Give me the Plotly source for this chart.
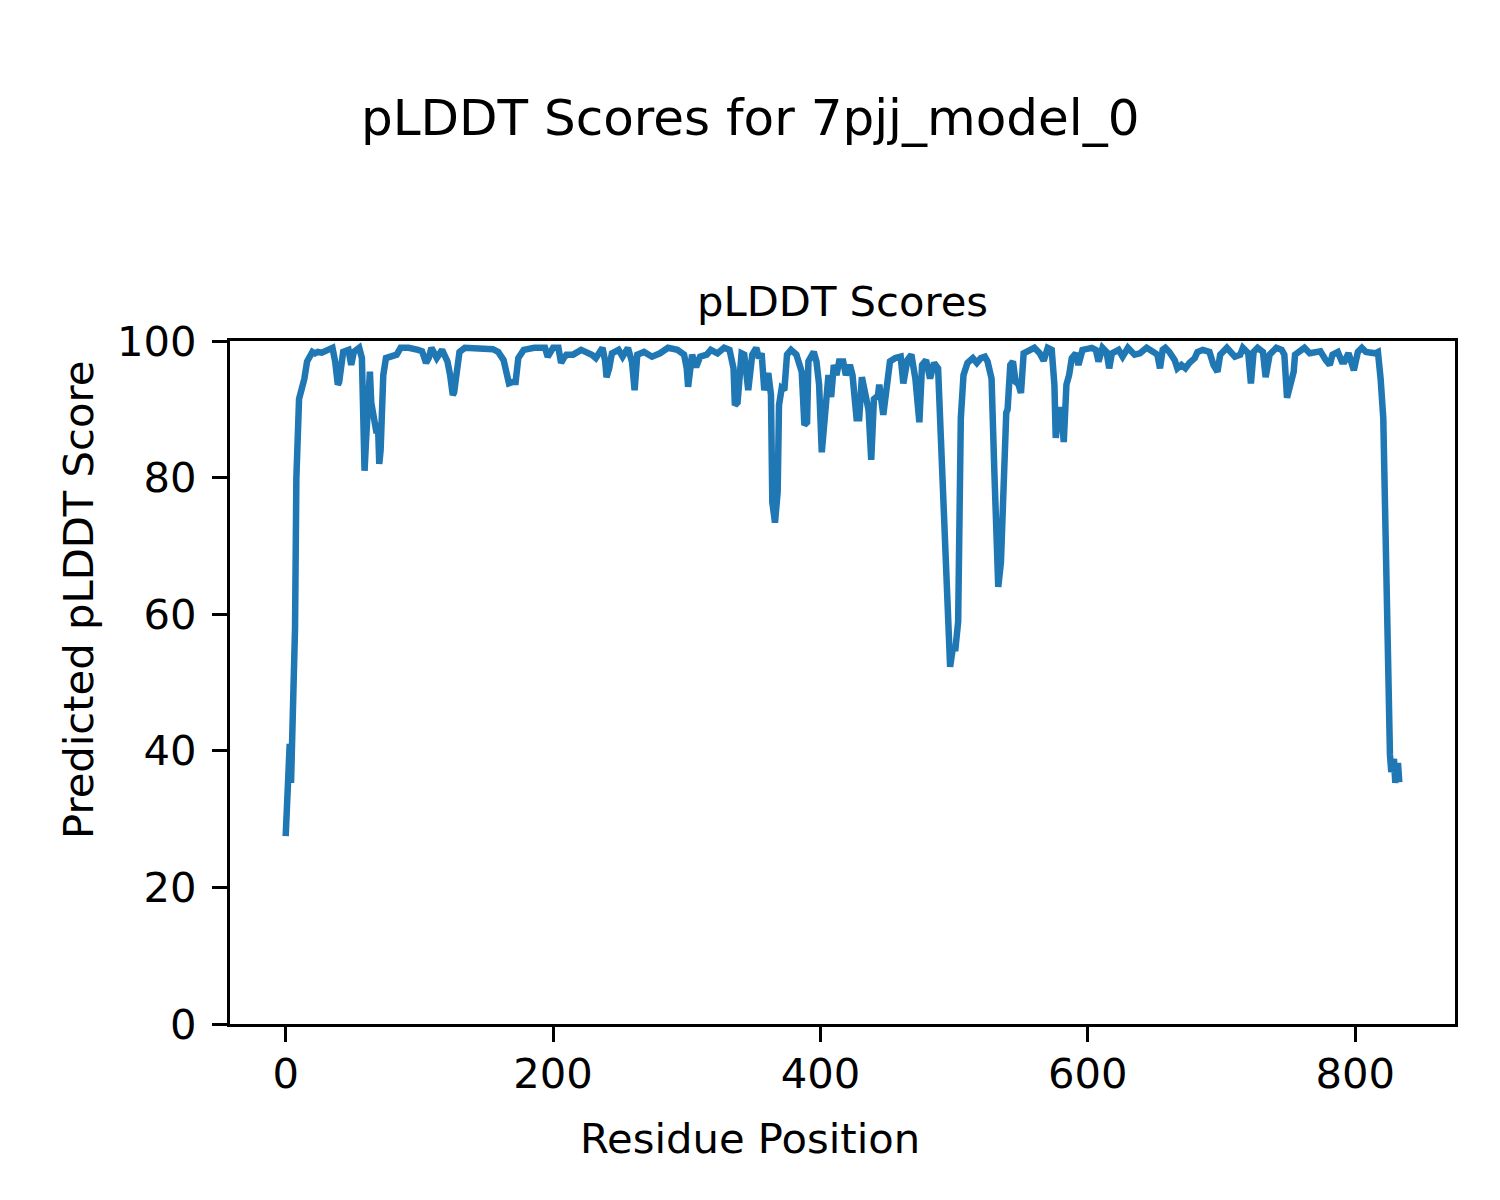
import plotly.graph_objects as go

residue = [0, 1, 2, 3, 4, 5, 6, 7, 8, 9, 10, 12, 14, 16, 18, 20, 22, 24, 27, 30, 33, 35, 37, 39, 40, 42, 43, 47, 49, 51, 55, 57, 59, 60, 62, 63, 64, 66, 68, 69, 70, 71, 73, 75, 79, 83, 86, 92, 99, 102, 105, 107, 109, 113, 117, 121, 123, 125, 126, 128, 130, 134, 144, 151, 155, 159, 163, 165, 167, 170, 172, 174, 178, 186, 194, 196, 200, 204, 206, 208, 210, 215, 221, 229, 232, 237, 239, 240, 242, 244, 249, 252, 256, 259, 261, 263, 268, 274, 280, 286, 293, 298, 300, 301, 302, 304, 307, 310, 315, 318, 323, 328, 332, 335, 336, 338, 341, 343, 346, 349, 352, 354, 356, 358, 361, 363, 364, 366, 368, 369, 371, 373, 375, 378, 382, 386, 388, 390, 391, 395, 397, 399, 401, 403, 405, 406, 408, 410, 412, 414, 417, 419, 422, 424, 427, 429, 431, 434, 436, 438, 440, 443, 444, 447, 449, 452, 456, 460, 462, 465, 468, 471, 474, 476, 479, 482, 485, 488, 490, 493, 495, 497, 499, 501, 503, 505, 507, 510, 514, 517, 520, 523, 525, 528, 530, 532, 533, 535, 537, 539, 540, 542, 544, 546, 548, 550, 552, 555, 560, 564, 567, 570, 573, 575, 576, 578, 580, 582, 584, 586, 588, 591, 593, 596, 603, 606, 608, 611, 614, 616, 618, 623, 626, 630, 635, 639, 644, 649, 652, 654, 656, 658, 661, 665, 667, 670, 673, 676, 680, 682, 686, 691, 694, 697, 699, 704, 707, 710, 714, 716, 720, 722, 724, 727, 731, 733, 736, 741, 745, 747, 749, 752, 754, 755, 759, 762, 766, 770, 774, 778, 781, 783, 787, 790, 792, 795, 797, 799, 802, 805, 808, 812, 815, 817, 818, 819, 821, 822, 823, 825, 826, 827, 829, 830, 832, 833]

plddt = [27.5, 31.5, 33, 41, 35.3, 42, 54, 58, 80, 89, 91.5, 93, 94.5, 97, 98, 98.4, 98.2, 98.4, 98.3, 98.6, 98.8, 99, 97, 93.6, 94, 97.5, 98.4, 98.7, 96.5, 98.4, 99, 97.5, 81, 85, 95, 95.5, 91, 89, 86.5, 88, 82, 84, 95, 97.5, 97.8, 98, 99, 99, 98.7, 98.5, 96.8, 97.5, 99, 97.5, 98.7, 97, 95, 92.1, 92.5, 95, 98.4, 99, 99, 99, 98.8, 98.4, 97.2, 95.5, 93.8, 94, 94, 97.5, 98.7, 99, 99, 97.7, 99, 99, 96.8, 97.5, 98, 98, 98.7, 98, 97.5, 99, 97, 94.7, 96, 98.2, 98.7, 97.7, 99, 97, 92.8, 98, 98.4, 97.7, 98.2, 99, 98.7, 98, 96, 93.3, 95, 98, 96.2, 97.7, 98, 98.7, 98.2, 99, 98.7, 96, 90.6, 91, 98.2, 98, 92.8, 98, 99, 97.5, 98.2, 92.8, 95.3, 92.1, 76.4, 73.4, 77.9, 90.6, 93.1, 92.8, 98, 98.7, 98, 95.5, 87.7, 88.1, 97, 98.4, 97, 93.6, 83.7, 88.7, 93.1, 95, 91.8, 96.5, 95, 97, 97, 95, 96.5, 95, 88.7, 88.7, 94.7, 91, 89.9, 82.6, 91.5, 92, 93.6, 89.2, 93.1, 97, 97.5, 97.7, 93.8, 97.2, 98, 94.5, 88.1, 96.5, 97.2, 94.5, 96.8, 96, 86.2, 71.6, 59.4, 52.3, 55, 55, 58.9, 88.7, 95, 96.8, 97.5, 96.8, 97.5, 97.7, 97, 94.5, 81.4, 67.6, 64, 67.6, 81.4, 89.5, 90, 96.5, 97, 94, 93.7, 92.4, 98.2, 98.5, 99, 98.2, 97.1, 99, 98.7, 93.6, 85.8, 89.9, 89.9, 85.2, 93.6, 95, 97.5, 98.2, 96.5, 98.7, 99, 98.7, 97, 99, 98.4, 96, 98.2, 98.7, 97.7, 99, 98, 98.2, 99, 98.4, 98, 96, 98.7, 99, 98.4, 97.2, 96, 96.5, 96, 96.8, 97.5, 98.4, 98.7, 98.4, 96.5, 95.5, 98, 99, 98.4, 97.7, 98, 99, 98.2, 93.8, 98.4, 99, 98.4, 94.7, 98, 99, 98.7, 98, 91.7, 93.6, 95.5, 98, 98.7, 99, 98.2, 98.4, 98.5, 97.2, 96.5, 98, 98.4, 97, 97, 98.2, 97.2, 95.7, 98.4, 99, 98.4, 98.2, 98.2, 98.4, 97, 94.5, 88.7, 76.4, 61.8, 47.1, 39.4, 36.9, 38.8, 35.3, 38.2, 35.4]

y_ticks = [0, 20, 40, 60, 80, 100]
x_ticks = [0, 200, 400, 600, 800]

suptitle = "pLDDT Scores for 7pjj_model_0"
axes_title = "pLDDT Scores"
x_label = "Residue Position"
y_label = "Predicted pLDDT Score"

FONT = "DejaVu Sans"
W, H = 1500, 1200
OFF = 8  # page body margin
L, R, T, B = 230, 1455, 341, 1024  # target plot box on screen
pw, ph = R - L, B - T

fig = go.Figure()
fig.add_trace(go.Scatter(x=residue, y=plddt, mode="lines",
                         line=dict(color="#1f77b4", width=6.5),
                         showlegend=False, hoverinfo="skip"))

span = residue[-1] - residue[0]
axis_common = dict(showline=True, linecolor="black", linewidth=3.3, mirror=True,
                   ticks="outside", ticklen=15, tickwidth=3.3, tickcolor="black",
                   showgrid=False, zeroline=False,
                   tickfont=dict(family=FONT, size=41.7, color="black"))
fig.update_xaxes(range=[residue[0] - 0.05 * span, residue[-1] + 0.05 * span],
                 tickvals=x_ticks, ticklabelstandoff=-4, **axis_common)
fig.update_yaxes(range=[0, 100], tickvals=y_ticks, ticklabelstandoff=7, **axis_common)

def px(xp):
    return (xp - L) / pw

def py(yp):
    return (B - yp) / ph

ann = [
    dict(text=suptitle, x=px(750), y=py(118), size=50, angle=0),
    dict(text=axes_title, x=px(842.5), y=py(302), size=41.7, angle=0),
    dict(text=x_label, x=px(750), y=py(1138), size=41.7, angle=0),
    dict(text=y_label, x=px(78), y=py(600), size=41.7, angle=-90),
]
for a in ann:
    fig.add_annotation(text=a["text"], x=a["x"], y=a["y"], xref="paper", yref="paper",
                       xanchor="center", yanchor="middle", showarrow=False,
                       textangle=a["angle"],
                       font=dict(family=FONT, size=a["size"], color="black"))

fig.update_layout(width=W, height=H, autosize=False,
                  margin=dict(l=L - OFF, r=W - R + OFF, t=T - OFF, b=H - B + OFF, pad=0),
                  plot_bgcolor="white", paper_bgcolor="white",
                  font=dict(family=FONT, color="black"))

fig.write_html("out.html")
